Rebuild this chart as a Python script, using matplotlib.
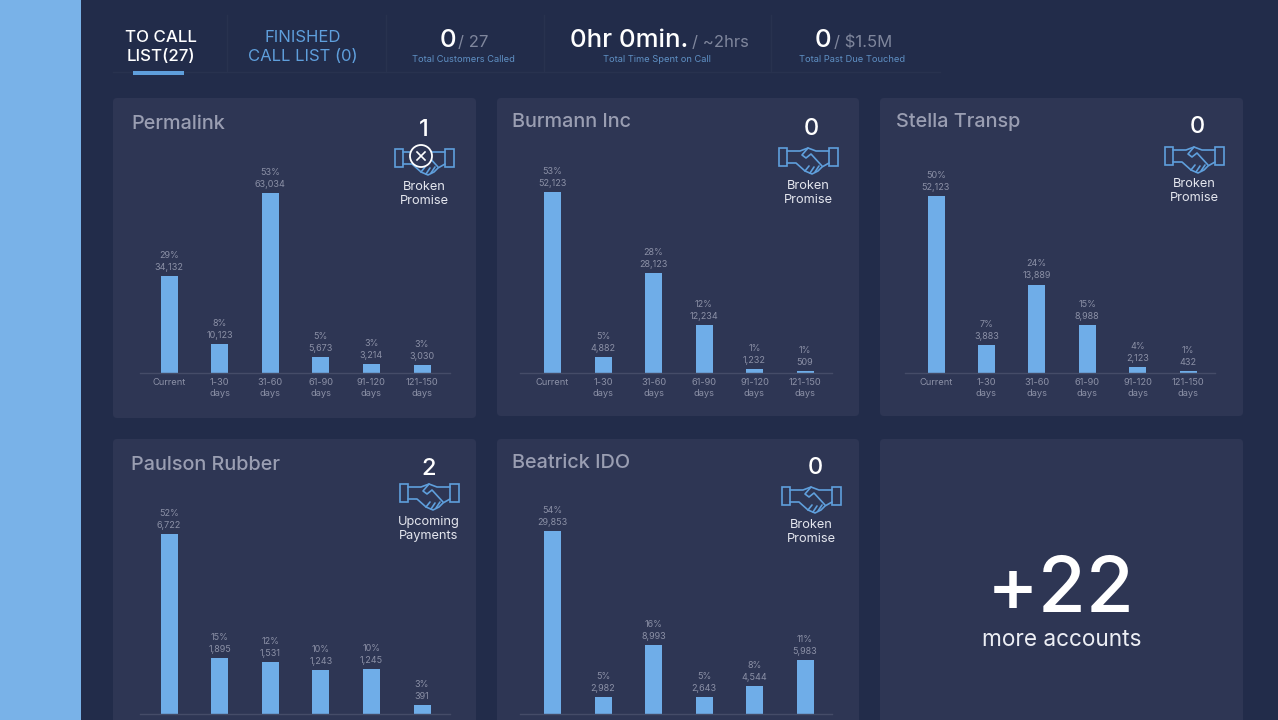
import matplotlib
matplotlib.use('Agg')
import matplotlib.pyplot as plt
from matplotlib.patches import Rectangle, FancyBboxPatch, Circle

plt.rcParams['font.family'] = ['Inter', 'DejaVu Sans']

W, H = 1278, 720
BG = '#222c4a'
PANEL = '#2e3654'
BLUE = '#6fade8'
ICON = '#5f9fdc'
DIM = '#8b90a6'

buckets = ['Current', '1-30\ndays', '31-60\ndays', '61-90\ndays', '91-120\ndays', '121-150\ndays']

# label text as printed, bar length as % of the tallest bar in that card
permalink_pct = ['29%', '8%', '53%', '5%', '3%', '3%']
permalink_amt = ['34,132', '10,123', '63,034', '5,673', '3,214', '3,030']
permalink_bar = [54, 16, 100, 9, 5, 4.5]

burmann_pct = ['53%', '5%', '28%', '12%', '1%', '1%']
burmann_amt = ['52,123', '4,882', '28,123', '12,234', '1,232', '509']
burmann_bar = [100, 9, 55, 26.5, 2.2, 1.1]

stella_pct = ['50%', '7%', '24%', '15%', '4%', '1%']
stella_amt = ['52,123', '3,883', '13,889', '8,988', '2,123', '432']
stella_bar = [100, 16, 50, 27, 3.4, 1.2]

paulson_pct = ['52%', '15%', '12%', '10%', '10%', '3%']
paulson_amt = ['6,722', '1,895', '1,531', '1,243', '1,245', '391']
paulson_bar = [100, 31, 28.7, 24.3, 24.8, 4.8]

beatrick_pct = ['54%', '5%', '16%', '5%', '8%', '11%']
beatrick_amt = ['29,853', '2,982', '8,993', '2,643', '4,544', '5,983']
beatrick_bar = [100, 9.3, 37.5, 9.3, 15.2, 29.5]

fig = plt.figure(figsize=(W / 100, H / 100), dpi=100, facecolor=BG)

# whole-picture axes in pixels for the dashboard furniture
bg = fig.add_axes([0, 0, 1, 1])
bg.set_xlim(0, W)
bg.set_ylim(H, 0)
bg.axis('off')
bg.add_patch(Rectangle((0, 0), 81, H, color='#79b2e8', lw=0))


def card(x0, y0, x1, y1):
    bg.add_patch(FancyBboxPatch((x0 + 3, y0 + 3), x1 - x0 - 6, y1 - y0 - 6,
                                boxstyle='round,pad=3,rounding_size=4', fc=PANEL, ec='none'))


def handshake(cx, cy, broken=False):
    def pl(pts, lw=1.2):
        bg.plot([cx + p[0] for p in pts], [cy + p[1] for p in pts], color=ICON, lw=lw,
                solid_capstyle='round', solid_joinstyle='round')
    bg.add_patch(Rectangle((cx - 29.5, cy - 9), 8.5, 18, fc='none', ec=ICON, lw=1.2))
    bg.add_patch(Rectangle((cx + 21, cy - 9), 8.5, 18, fc='none', ec=ICON, lw=1.2))
    pl([(-21, -6), (-8, -6), (0, -9), (8, -6), (21, -6)])
    pl([(-21, 6), (-12, 6), (-3, 14), (4, 17), (10, 14), (14, 10), (21, 6)])
    pl([(0, -9), (-6, -2), (-2, 1), (3, -3), (14, 9)])
    pl([(-3, 14), (1, 9)])
    pl([(2, 16), (6, 10)])
    pl([(7, 15), (11, 9)])
    if broken:
        bg.add_patch(Circle((cx - 3, cy - 2), 11, fc=PANEL, ec='white', lw=1.3, zorder=5))
        bg.plot([cx - 7, cx + 1], [cy - 6, cy + 2], color='white', lw=1.2, zorder=6)
        bg.plot([cx - 7, cx + 1], [cy + 2, cy - 6], color='white', lw=1.2, zorder=6)


def bars(first_x, step, x0, x1, base_y, top_y, pct, amt, val, ticks=True):
    # one axes per card: its y range runs from the baseline to the tallest bar
    ax = fig.add_axes([x0 / W, 1 - base_y / H, (x1 - x0) / W, (base_y - top_y) / H])
    ax.patch.set_alpha(0)
    ax.bar(range(6), val, width=17 / step, color=BLUE)
    ax.set_xlim((x0 - first_x) / step, (x1 - first_x) / step)
    ax.set_ylim(0, 100)
    # bottom row runs off the screen, its tick labels are not readable there
    if ticks:
        ax.set_xticks(range(6), buckets, fontsize=6.7, color=DIM, linespacing=1.25)
    else:
        ax.set_xticks([])
    ax.set_yticks([])
    ax.tick_params(axis='x', length=0, pad=3.5)
    for s in ['top', 'left', 'right']:
        ax.spines[s].set_visible(False)
    ax.spines['bottom'].set_color('#454c68')
    ax.spines['bottom'].set_linewidth(1)
    for i in range(6):
        ax.annotate(pct[i] + '\n' + amt[i], (i, val[i]), xytext=(0, 3), textcoords='offset points',
                    ha='center', va='bottom', fontsize=6.5, color=DIM, linespacing=1.42,
                    annotation_clip=False)


def head(x, y, text):
    bg.text(x, y, text, fontsize=14.3, color='#9a9eb2', va='center', ha='left', fontweight='medium')


def promise(num_x, num_y, icon_x, icon_y, label_y, number, label, broken=False):
    bg.text(num_x, num_y, number, fontsize=17, color='white', ha='center', va='center', fontweight='medium')
    handshake(icon_x, icon_y, broken)
    bg.text(icon_x, label_y, label, fontsize=9.2, color='#e4e6ee', ha='center', va='center', linespacing=1.3)


card(113, 98, 476, 418)
card(497, 98, 859, 416)
card(880, 98, 1243, 416)
card(113, 439, 476, 740)
card(497, 439, 859, 740)
card(880, 439, 1243, 740)

head(131, 124, 'Permalink')
head(512, 122, 'Burmann Inc')
head(896, 122, 'Stella Transp')
head(131, 465, 'Paulson Rubber')
head(512, 463, 'Beatrick IDO')

promise(424, 130, 424, 158, 194, '1', 'Broken\nPromise', broken=True)
promise(811, 129, 808, 157, 193, '0', 'Broken\nPromise')
promise(1197, 127, 1194, 156, 191, '0', 'Broken\nPromise')
promise(429, 469, 429, 493, 529, '2', 'Upcoming\nPayments')
promise(815, 468, 811, 496, 532, '0', 'Broken\nPromise')

bars(169, 50.6, 140, 450, 373, 193, permalink_pct, permalink_amt, permalink_bar)
bars(552.5, 50.5, 520, 832, 373, 192, burmann_pct, burmann_amt, burmann_bar)
bars(936, 50.4, 905, 1215, 373, 196, stella_pct, stella_amt, stella_bar)
bars(169, 50.6, 140, 450, 714, 534, paulson_pct, paulson_amt, paulson_bar, ticks=False)
bars(552.5, 50.5, 520, 832, 714, 531, beatrick_pct, beatrick_amt, beatrick_bar, ticks=False)

bg.text(1061, 591, '+22', fontsize=56, color='white', ha='center', va='center', fontweight='medium')
bg.text(1062, 640, 'more accounts', fontsize=16.3, color='#eceef4', ha='center', va='center')

# top strip
for x in [227, 386, 544, 771]:
    bg.plot([x, x], [15, 72], color='#28324f', lw=1)
bg.plot([113, 940], [72, 72], color='#28324f', lw=1)
bg.add_patch(Rectangle((133, 71), 51, 4, color=ICON, lw=0, zorder=4))

bg.text(161, 47, 'TO CALL\nLIST(27)', fontsize=12.2, color='white', ha='center', va='center',
        linespacing=1.35, fontweight='medium')
bg.text(303, 47, 'FINISHED\nCALL LIST (0)', fontsize=12, color=ICON, ha='center', va='center', linespacing=1.35)


def stat(x_big, x_small, big, small, cx, sub):
    bg.text(x_big, 47, big, fontsize=18.6, color='white', ha='left', va='baseline', fontweight='medium')
    bg.text(x_small, 47, small, fontsize=12, color='#7f869c', ha='left', va='baseline')
    bg.text(cx, 59, sub, fontsize=6.7, color='#5f90c4', ha='center', va='center')


stat(440, 458, '0', '/ 27', 463, 'Total Customers Called')
stat(570, 692, '0hr 0min.', '/ ~2hrs', 657, 'Total Time Spent on Call')
stat(815, 834, '0', '/ $1.5M', 852, 'Total Past Due Touched')

fig.savefig('out.png', dpi=100, facecolor=BG)
